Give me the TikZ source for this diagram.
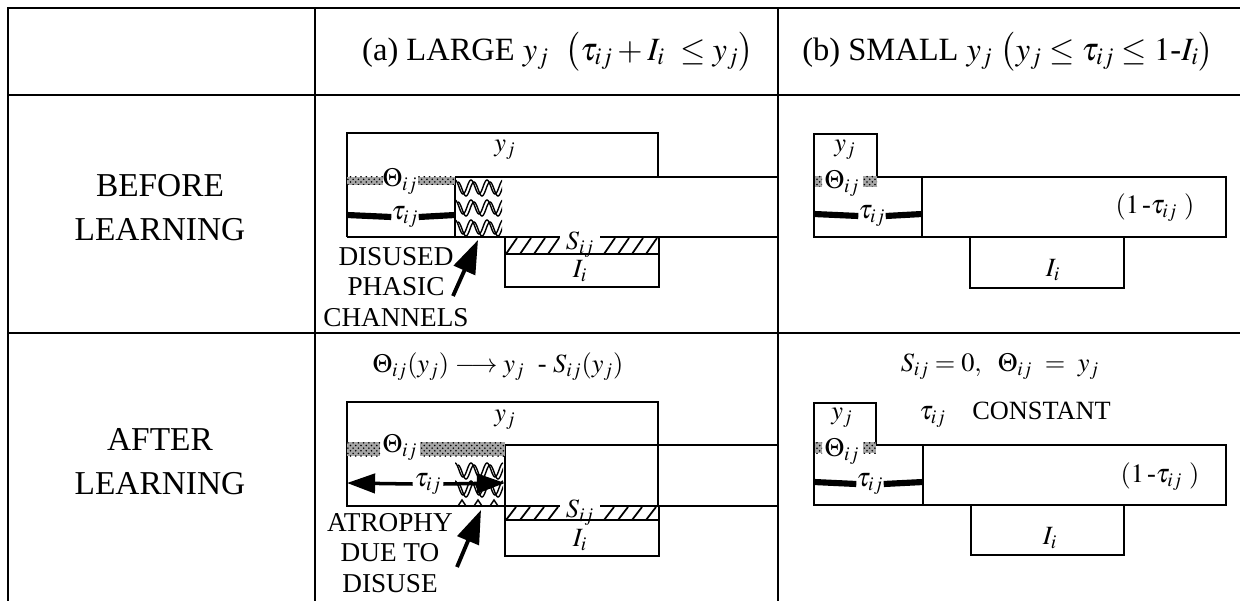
\documentclass[tikz,border=0pt]{standalone}
\usepackage{mathptmx}
\usepackage[no-math]{fontspec}
\setmainfont{Liberation Serif}
\usetikzlibrary{arrows.meta,patterns}
\begin{document}
\begin{tikzpicture}[x=0.02cm,y=-0.02cm,
  rule/.style={line width=1.1pt},
  outline/.style={line width=1.1pt},
  heading/.style={font=\fontsize{18.5}{22}\selectfont, inner sep=0pt},
  rowtitle/.style={font=\fontsize{19}{25}\selectfont, align=center, inner sep=0pt},
  caption/.style={font=\fontsize{15.5}{17.5}\selectfont, align=center, inner sep=0pt},
  sym/.style={font=\fontsize{15}{18}\selectfont, inner sep=0pt},
  stipple/.style={fill=black!35, postaction={pattern=crosshatch dots, pattern color=black}},
  tauline/.style={line width=3.5pt},
  pointer/.style={line width=2.2pt, -{Triangle[length=19pt,width=13pt]}},
  tauarrow/.style={line width=2pt, -{Triangle[length=16pt,width=11pt]}},
  hatch/.style={line width=1pt},
  wave/.style={line width=0.8pt},
]
\useasboundingbox (0,0) rectangle (1240,601);

% ---------- table rules ----------
\draw[rule] (8,601) -- (8,8) -- (1240,8);
\draw[rule] (8,95) -- (1240,95);
\draw[rule] (8,333) -- (1240,333);
\draw[rule] (315,8) -- (315,601);
\draw[rule] (778,8) -- (778,601);

% ---------- headings ----------
\node[heading] (heada) at (558,52) {(a) LARGE $y_j$\ \ $\bigl(\tau_{ij}+I_i\ \le y_j\bigr)$};
\node[heading] (headb) at (1008,52) {(b) SMALL $y_j$ $\bigl(y_j\le\tau_{ij}\le 1\mbox{-}I_i\bigr)$};
\node[rowtitle] (before) at (160,208) {BEFORE\\LEARNING};
\node[rowtitle] (after) at (160,462) {AFTER\\LEARNING};

% ========== (a) before learning ==========
\draw[outline] (347,237) -- (347,133) -- (658,133) -- (658,177);
\draw[outline] (455,177) -- (778,177);
\draw[outline] (455,177) -- (455,237);
\draw[outline] (347,237) -- (560,237);
\draw[outline] (600,237) -- (778,237);
\fill[stipple] (347,177) rectangle (383,185);
\fill[stipple] (418,177) rectangle (455,185);
\node[sym] (ya1) at (505,150) {$y_j$};
\node[sym] (tha1) at (400,182) {$\Theta_{ij}$};
\node[sym] (taua1) at (405,217) {$\tau_{ij}$};
\draw[tauline] (347,215) -- (taua1.west);
\draw[tauline] (taua1.east) -- (455,215);
% phasic channels
\begin{scope}
  \clip (455,177) rectangle (502,237);
  \foreach \yc in {187,207,227}{
    \draw[wave] plot[domain=0:48, samples=61, smooth] ({455+\x},{\yc-7*cos(\x*22.5)});
    \draw[wave] plot[domain=0:48, samples=61, smooth] ({458+\x},{\yc+2-7*cos(\x*22.5)});
  }
\end{scope}
% signal band and input
\draw[outline] (505,237) rectangle (659,254);
\draw[outline] (505,254) rectangle (659,287);
\fill[white] (560,235) rectangle (600,253);
\foreach \s in {506,520,534,548}{\draw[hatch] (\s,254) -- (\s+11,238);}
\foreach \s in {604,618,632,646}{\draw[hatch] (\s,254) -- (\s+11,238);}
\node[sym] (sa1) at (580,245) {$S_{ij}$};
\node[sym] (ia1) at (580,271) {$I_i$};
\node[caption] (disused) at (396,287) {DISUSED\\PHASIC\\CHANNELS};
\coordinate (dtail) at (453,296);
\coordinate (dtip) at (478,240);
\draw[pointer] (dtail) -- (dtip);

% ========== (a) after learning ==========
\node[sym] (rulea) at (498,367) {$\Theta_{ij}(y_j)\longrightarrow y_j\ \ \mbox{-}\ S_{ij}(y_j)$};
\draw[outline] (347,402) rectangle (658,506);
\draw[outline] (505,445) -- (778,445);
\draw[outline] (505,445) -- (505,506);
\draw[outline] (505,506) -- (560,506);
\draw[outline] (600,506) -- (778,506);
\fill[white] (348,441) rectangle (504,457);
\fill[stipple] (347,442) rectangle (380,456);
\fill[stipple] (420,442) rectangle (505,456);
\node[sym] (ya2) at (505,420) {$y_j$};
\node[sym] (tha2) at (400,448) {$\Theta_{ij}$};
% atrophied channels
\begin{scope}
  \clip (455,457) rectangle (503,506);
  \foreach \yc in {470,488}{
    \draw[wave] plot[domain=0:48, samples=61, smooth] ({455+\x},{\yc-7*cos(\x*22.5)});
    \draw[wave] plot[domain=0:48, samples=61, smooth] ({458+\x},{\yc+2-7*cos(\x*22.5)});
  }
  \foreach \s in {458,474,490}{\draw[wave] (\s,506) -- (\s+4,500) -- (\s+8,506);}
\end{scope}
\node[sym, fill=white, inner sep=1pt] (taua2) at (428,484) {$\tau_{ij}$};
\coordinate (tleft) at (347,483);
\coordinate (tright) at (505,483);
\draw[tauarrow] (taua2.west) -- (tleft);
\draw[tauarrow] (taua2.east) -- (tright);
\draw[outline] (505,506) rectangle (659,520);
\draw[outline] (505,520) rectangle (659,556);
\fill[white] (560,504) rectangle (600,519);
\foreach \s in {506,520,534,548}{\draw[hatch] (\s,520) -- (\s+10,507);}
\foreach \s in {604,618,632,646}{\draw[hatch] (\s,520) -- (\s+10,507);}
\node[sym] (sa2) at (580,513) {$S_{ij}$};
\node[sym] (ia2) at (580,540) {$I_i$};
\node[caption] (atrophy) at (390,553) {ATROPHY\\DUE TO\\DISUSE};
\coordinate (atail) at (457,567);
\coordinate (atip) at (481,510);
\draw[pointer] (atail) -- (atip);

% ========== (b) before learning ==========
\draw[outline] (814,237) -- (814,134) -- (877,134) -- (877,177) -- (1226,177) -- (1226,237) -- cycle;
\draw[outline] (922,177) -- (922,237);
\draw[outline] (970,237) rectangle (1124,288);
\fill[stipple] (815,176) rectangle (822,187);
\fill[stipple] (863,176) rectangle (877,187);
\node[sym] (yb1) at (845,150) {$y_j$};
\node[sym] (thb1) at (842,184) {$\Theta_{ij}$};
\node[sym] (taub1) at (872,216) {$\tau_{ij}$};
\draw[tauline] (814,214) -- (taub1.west);
\draw[tauline] (taub1.east) -- (922,214);
\node[sym] (oneb1) at (1155,208) {$(1\,\mbox{-}\tau_{ij}\ )$};
\node[sym] (ib1) at (1053,270) {$I_i$};

% ========== (b) after learning ==========
\node[sym] (ruleb) at (1000,367) {$S_{ij}=0,\ \ \Theta_{ij}\ =\ y_j$};
\node[sym] (const) at (1015,415) {$\tau_{ij}$\quad CONSTANT};
\draw[outline] (814,505) -- (814,403) -- (876,403) -- (876,445) -- (1226,445) -- (1226,505) -- cycle;
\draw[outline] (923,445) -- (923,505);
\draw[outline] (971,505) rectangle (1124,555);
\fill[stipple] (815,442) rectangle (822,453);
\fill[stipple] (863,442) rectangle (876,453);
\node[sym] (yb2) at (842,418) {$y_j$};
\node[sym] (thb2) at (842,452) {$\Theta_{ij}$};
\node[sym] (taub2) at (870,484) {$\tau_{ij}$};
\draw[tauline] (814,482) -- (taub2.west);
\draw[tauline] (taub2.east) -- (923,482);
\node[sym] (oneb2) at (1160,477) {$(1\,\mbox{-}\tau_{ij}\ )$};
\node[sym] (ib2) at (1050,538) {$I_i$};
\end{tikzpicture}
\end{document}
